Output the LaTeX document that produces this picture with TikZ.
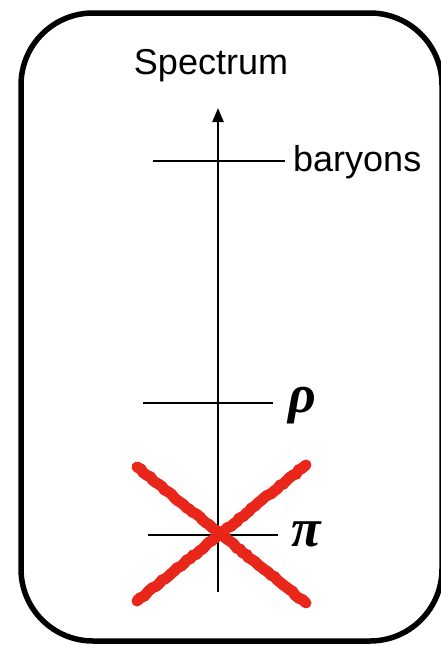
\documentclass[tikz,border=0pt]{standalone}
\usepackage{fontspec}
\setmainfont{Liberation Sans}
\newfontfamily\greekfont{Liberation Serif}
\usetikzlibrary{arrows.meta,positioning,calc,decorations.pathmorphing}
\definecolor{crossred}{HTML}{E8261A}

\tikzset{
  level/.style={line width=2.4pt},
  lvlabel/.style={anchor=west,inner sep=0pt,font=\fontsize{36}{42}\selectfont},
  greeklabel/.style={anchor=west,inner sep=0pt,font=\fontsize{54}{60}\selectfont\greekfont\bfseries\itshape},
  strike/.style={crossred,line width=11pt,line cap=round,
    decorate,decoration={random steps,segment length=4pt,amplitude=0.8pt}}
}

\begin{document}
\begin{tikzpicture}[x=1pt,y=-1pt]
    \useasboundingbox (0,0) rectangle (441,646);
    % frame
    \draw[line width=5.5pt,rounded corners=72pt] (21,13) rectangle (442,641);
    \node[font=\fontsize{36}{42}\selectfont] (title) at (211,66) {Spectrum};
    % axis
    \coordinate (axbot) at (218,592);
    \coordinate (axtop) at (218,108);
    \draw[level,-{Triangle[length=14pt,width=11pt]}] (axbot) -- (axtop);
    % levels
    \foreach \n/\y/\l/\r in {bar/161/153/285,rho/403/143/273,pi/535/148/278}{
      \coordinate (\n-l) at (\l,\y);
      \coordinate (\n-r) at (\r,\y);
      \draw[level] (\n-l) -- (\n-r);
    }
    \node[lvlabel] (barlab) at ($(bar-r)+(8,1)$) {baryons};
    \node[greeklabel] (rholab) at ($(rho-r)+(15,3)$) {ρ};
    \node[greeklabel] (pilab) at ($(pi-r)+(13,-1)$) {π};
    % crossed out
    \coordinate (xa) at (137,467);
    \coordinate (xb) at (306,603);
    \coordinate (xc) at (137,601);
    \coordinate (xd) at (306,465);
    \draw[strike] (xa) -- (xb);
    \draw[strike] (xc) -- (xd);
  \end{tikzpicture}
\end{document}
